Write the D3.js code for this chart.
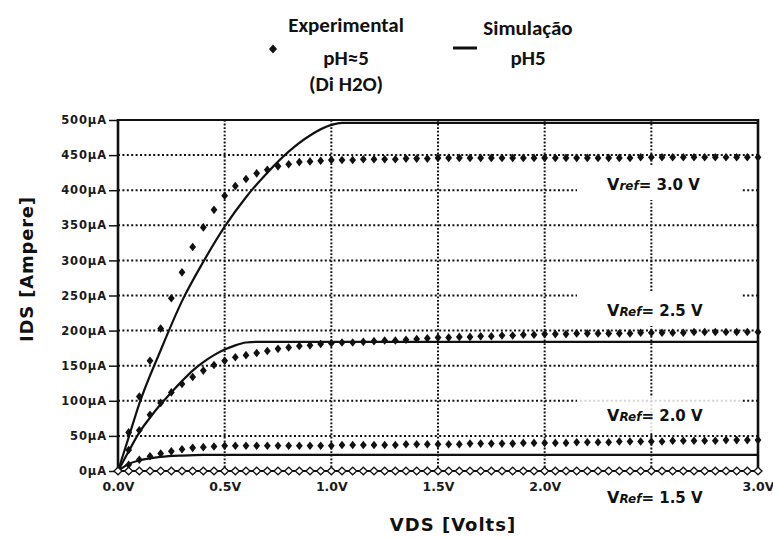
<!DOCTYPE html>
<html>
<head>
<meta charset="utf-8">
<script src="https://cdn.jsdelivr.net/npm/d3@7"></script>
<style>
  html, body { margin: 0; padding: 0; background: #fff; }
  svg { display: block; }
</style>
</head>
<body>
<svg id="chart" width="773" height="538"></svg>
<script>
// ---------------- DATA ----------------
const vds = [0,0.05,0.1,0.15,0.2,0.25,0.3,0.35,0.4,0.45,0.5,0.55,0.6,0.65,0.7,0.75,0.8,0.85,0.9,0.95,
  1.0,1.05,1.1,1.15,1.2,1.25,1.3,1.35,1.4,1.45,1.5,1.55,1.6,1.65,1.7,1.75,1.8,1.85,1.9,1.95,
  2.0,2.05,2.1,2.15,2.2,2.25,2.3,2.35,2.4,2.45,2.5,2.55,2.6,2.65,2.7,2.75,2.8,2.85,2.9,2.95,3.0];

// Experimental (pH≈5, Di H2O), IDS in µA
const exp30 = [0,55,106,157,203,246,283,319,347,372,392,406,416,424,429,434,437,440,441,442,
  443,443,443,444,444,444,444,445,445,445,446,446,446,446,446,446,446,446,446,446,
  446,446,446,446,446,446,446,446,446,447,447,447,447,447,447,447,447,447,447,447,447];
const exp25 = [0,30,58,80,97,112,124,134,143,151,157,162,165,168,171,174,176,178,179,181,
  182,183,183,184,185,186,186,187,188,189,190,190,191,191,192,192,193,193,194,194,
  195,195,195,196,196,196,196,196,196,197,197,197,197,197,198,198,198,198,198,198,198];
const exp20 = [0,9,16,21,25,28,31,33,34,35,36,36,36,36,36,36,36,36,36,36,
  36,37,37,37,37,37,37,38,38,38,38,38,38,39,39,39,39,39,40,40,
  40,40,40,41,41,41,41,42,42,42,42,42,43,43,43,43,43,44,44,44,44];
const exp15 = [0,0,0,0,0,0,0,0,0,0,0,0,0,0,0,0,0,0,0,0,
  0,0,0,0,0,0,0,0,0,0,0,0,0,0,0,0,0,0,0,0,
  0,0,0,0,0,0,0,0,0,0,0,0,0,0,0,0,0,0,0,0,0];

// Simulation (pH5)
const sim30V = [0,0.05,0.1,0.2,0.3,0.4,0.5,0.6,0.7,0.8,0.9,1.0,1.05,1.1,3.0];
const sim30I = [0,48,96,172,242,298,348,390,425,455,478,493,496,496,496];
const sim25V = [0,0.05,0.1,0.15,0.2,0.25,0.3,0.35,0.4,0.45,0.5,0.55,0.6,0.65,3.0];
const sim25I = [0,28,55,76,95,112,128,143,155,165,173,179,183,184,184];
const sim20V = [0,0.05,0.1,0.15,0.2,0.3,0.4,3.0];
const sim20I = [0,10,15,18,20,22,23,23];
const sim15V = [0,3.0];
const sim15I = [0,0];

const yTicks = [0,50,100,150,200,250,300,350,400,450,500];
const yTickLabels = ["0µA","50µA","100µA","150µA","200µA","250µA","300µA","350µA","400µA","450µA","500µA"];
const xGrid = [0.5,1.0,1.5,2.0,2.5];
const xTicks = [0,0.5,1.0,1.5,2.0,3.0];
const xTickLabels = ["0.0V","0.5V","1.0V","1.5V","2.0V","3.0V"];
const vrefLabels = [
  {main:"V", sub:"ref", rest:"= 3.0 V", y:190, mask:[165,200], op:1},
  {main:"V", sub:"Ref", rest:"= 2.5 V", y:316, mask:[291,326], op:1},
  {main:"V", sub:"Ref", rest:"= 2.0 V", y:421, mask:[397,433], op:0.82},
  {main:"V", sub:"Ref", rest:"= 1.5 V", y:503, mask:[477,510], op:1}
];

// ---------------- DRAW ----------------
const svg = d3.select("#chart");
const x = d3.scaleLinear().domain([0,3]).range([118,758]);
const y = d3.scaleLinear().domain([0,500]).range([471,120]);
const INK = "#111";
const tickFont = "'DejaVu Sans', Verdana, sans-serif";

// gridlines
const grid = svg.append("g");
grid.selectAll("line.h").data(yTicks.filter(d => d > 0 && d < 500)).join("line")
  .attr("x1", x(0)).attr("x2", x(3)).attr("y1", d => y(d)).attr("y2", d => y(d))
  .attr("stroke", INK).attr("stroke-width", 2).attr("stroke-dasharray", "2,2.4");
grid.selectAll("line.v").data(xGrid).join("line")
  .attr("y1", y(500)).attr("y2", y(0)).attr("x1", d => x(d)).attr("x2", d => x(d))
  .attr("stroke", INK).attr("stroke-width", 2).attr("stroke-dasharray", "1.8,1.8");

// white masks behind the annotations
svg.append("g").selectAll("rect").data(vrefLabels).join("rect")
  .attr("x", 577).attr("width", 165)
  .attr("y", d => d.mask[0]).attr("height", d => d.mask[1] - d.mask[0])
  .attr("fill", "#fff").attr("fill-opacity", d => d.op);

// axes: y
const yAxis = d3.axisLeft(y).tickValues(yTicks).tickFormat((d,i) => yTickLabels[i])
  .tickSize(9).tickPadding(2);
const gy = svg.append("g").attr("transform", `translate(${x(0)},0)`).call(yAxis);
gy.select(".domain").remove();
gy.selectAll(".tick line").attr("stroke", INK).attr("stroke-width", 1.5);
gy.selectAll(".tick text").attr("fill", "#1a1a1a")
  .style("font-family", tickFont).style("font-size", "11.5px").style("font-weight", "bold")
  .style("letter-spacing", "0.9px");

// axes: x
const xAxis = d3.axisBottom(x).tickValues(xTicks).tickFormat((d,i) => xTickLabels[i])
  .tickSize(0).tickPadding(11);
const gx = svg.append("g").attr("transform", `translate(0,${y(0)})`).call(xAxis);
gx.select(".domain").remove();
gx.selectAll(".tick text").attr("fill", "#1a1a1a")
  .style("font-family", tickFont).style("font-size", "12.5px").style("font-weight", "bold");

// simulation lines
const line = d3.line().x(d => x(d[0])).y(d => y(d[1])).curve(d3.curveMonotoneX);
const sims = [[sim30V, sim30I],[sim25V, sim25I],[sim20V, sim20I],[sim15V, sim15I]];
svg.append("g").selectAll("path").data(sims).join("path")
  .attr("d", s => line(s[0].map((v,i) => [v, s[1][i]])))
  .attr("fill", "none").attr("stroke", INK).attr("stroke-width", 2.2);

// frame
svg.append("line").attr("x1", x(0)).attr("x2", x(0)).attr("y1", y(500)-1).attr("y2", y(0)+1)
  .attr("stroke", INK).attr("stroke-width", 2.6);
svg.append("line").attr("x1", x(3)).attr("x2", x(3)).attr("y1", y(500)-1).attr("y2", y(0)+1)
  .attr("stroke", INK).attr("stroke-width", 2.6);
svg.append("line").attr("x1", x(0)).attr("x2", x(3)).attr("y1", y(500)).attr("y2", y(500))
  .attr("stroke", INK).attr("stroke-width", 2);

// experimental diamonds
const dia = "M0,-4.3L3.4,0L0,4.3L-3.4,0Z";
const exps = [exp30, exp25, exp20];
const gd = svg.append("g");
exps.forEach(arr => {
  gd.append("g").selectAll("path").data(vds.map((v,i) => [v, arr[i]])).join("path")
    .attr("d", dia).attr("transform", d => `translate(${x(d[0])},${y(d[1])})`)
    .attr("fill", INK);
});
gd.append("g").selectAll("path").data(vds.map((v,i) => [v, exp15[i]])).join("path")
  .attr("d", "M0,-3.8L4,0L0,3.8L-4,0Z").attr("transform", d => `translate(${x(d[0])},${y(d[1])})`)
  .attr("fill", "#fff").attr("stroke", INK).attr("stroke-width", 1.3);

// Vref annotations
const ann = svg.append("g").style("font-family", tickFont).style("font-weight", "bold").attr("fill", INK);
vrefLabels.forEach(d => {
  const t = ann.append("text").attr("x", 607).attr("y", d.y);
  t.append("tspan").text(d.main).style("font-size", "16px");
  t.append("tspan").text(d.sub).style("font-size", "12px").style("font-style", "italic");
  t.append("tspan").text(d.rest).style("font-size", "15px");
});

// axis titles
svg.append("text").attr("x", 453).attr("y", 531).attr("text-anchor", "middle")
  .style("font-family", tickFont).style("font-weight", "bold").style("font-size", "18px")
  .style("letter-spacing", "1px").attr("fill", INK).text("VDS [Volts]");
svg.append("text").attr("transform", "translate(33,269) rotate(-90)").attr("text-anchor", "middle")
  .style("font-family", tickFont).style("font-weight", "bold").style("font-size", "18px")
  .style("letter-spacing", "0.8px").attr("fill", INK).text("IDS  [Ampere]");

// legend
const legFont = "Carlito, 'Liberation Sans Narrow', 'Arial Narrow', sans-serif";
const leg = svg.append("g").style("font-family", legFont).style("font-weight", "bold")
  .style("font-size", "21px").attr("fill", INK).attr("text-anchor", "middle");
leg.append("path").attr("d", "M0,-4.5L4,0L0,4.5L-4,0Z").attr("transform", "translate(273,49)").attr("fill", INK);
leg.append("text").attr("x", 346).attr("y", 32).text("Experimental");
leg.append("text").attr("x", 346).attr("y", 65).text("pH≈5");
leg.append("text").attr("x", 346).attr("y", 91).text("(Di H2O)");
leg.append("line").attr("x1", 453).attr("x2", 477).attr("y1", 48).attr("y2", 48)
  .attr("stroke", INK).attr("stroke-width", 3);
leg.append("text").attr("x", 528).attr("y", 35).text("Simulação");
leg.append("text").attr("x", 528).attr("y", 65).text("pH5");
</script>
</body>
</html>
